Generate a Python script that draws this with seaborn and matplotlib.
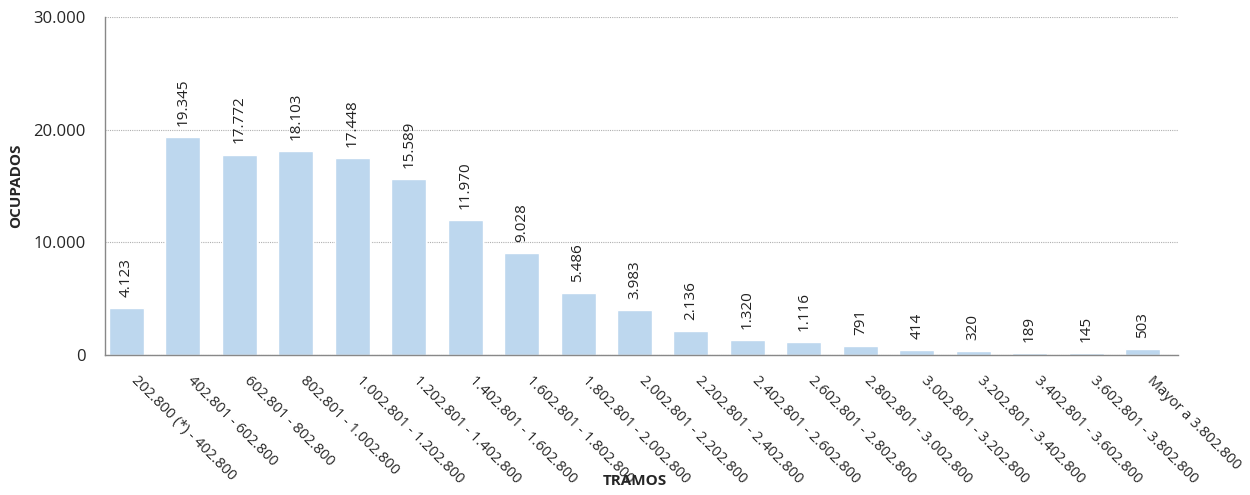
import numpy as np
import pandas as pd
import seaborn as sns
import matplotlib.pyplot as plt
import matplotlib.transforms as mtransforms
from matplotlib.ticker import FuncFormatter

tramos = [
    "202.800 (*) - 402.800", "402.801 - 602.800", "602.801 - 802.800",
    "802.801 - 1.002.800", "1.002.801 - 1.202.800", "1.202.801 - 1.402.800",
    "1.402.801 - 1.602.800", "1.602.801 - 1.802.800", "1.802.801 - 2.002.800",
    "2.002.801 - 2.202.800", "2.202.801 - 2.402.800", "2.402.801 - 2.602.800",
    "2.602.801 - 2.802.800", "2.802.801 - 3.002.800", "3.002.801 - 3.202.800",
    "3.202.801 - 3.402.800", "3.402.801 - 3.602.800", "3.602.801 - 3.802.800",
    "Mayor a 3.802.800",
]
ocupados = [4123, 19345, 17772, 18103, 17448, 15589, 11970, 9028, 5486, 3983,
            2136, 1320, 1116, 791, 414, 320, 189, 145, 503]
yticks = [0, 10000, 20000, 30000]


def miles(v):
    return f"{int(v):,}".replace(",", ".")


df = pd.DataFrame({"TRAMOS": tramos, "OCUPADOS": ocupados})

sns.set_style("white")
plt.rcParams['font.family'] = ['Open Sans', 'DejaVu Sans']

fig = plt.figure(figsize=(12.5, 4.95), dpi=100)
ax = fig.add_axes([0.084, 0.283, 0.858, 0.683])

sns.barplot(data=df, x="TRAMOS", y="OCUPADOS", color="#BDD7EE", width=0.62,
            saturation=1, ax=ax, zorder=2)

for i, v in enumerate(ocupados):
    ax.text(i, v + 1000, miles(v), rotation=90, ha='center', va='bottom',
            fontsize=11, color='#222222')

ax.set_ylim(0, 30000)
ax.set_xlim(-0.38, len(tramos) - 0.38)
ax.set_yticks(yticks)
ax.yaxis.set_major_formatter(FuncFormatter(lambda v, p: miles(v)))
ax.tick_params(axis='y', labelsize=12, length=0, pad=14)
ax.tick_params(axis='x', labelsize=10.5, length=0, pad=13)
ax.set_xticks(range(len(tramos)))
ax.set_xticklabels(tramos, rotation=-45, ha='left', va='top', rotation_mode='anchor')
shift = mtransforms.ScaledTranslation(12 / 100, 0, fig.dpi_scale_trans)
for lab in ax.get_xticklabels():
    lab.set_transform(lab.get_transform() + shift)

ax.yaxis.grid(True, linestyle=(0, (1, 1)), color='#B0B0B0', linewidth=0.8, zorder=0)
ax.set_axisbelow(True)
sns.despine(ax=ax, top=True, right=True)
for s in ['left', 'bottom']:
    ax.spines[s].set_color('#888888')
    ax.spines[s].set_linewidth(1)

ax.set_xlabel("")
ax.set_ylabel("OCUPADOS", fontsize=11, fontweight='bold', labelpad=7)
fig.text(0.508, 0.028, "TRAMOS", fontsize=11, fontweight='bold', ha='center', va='center')

fig.savefig("out.png", dpi=100)
